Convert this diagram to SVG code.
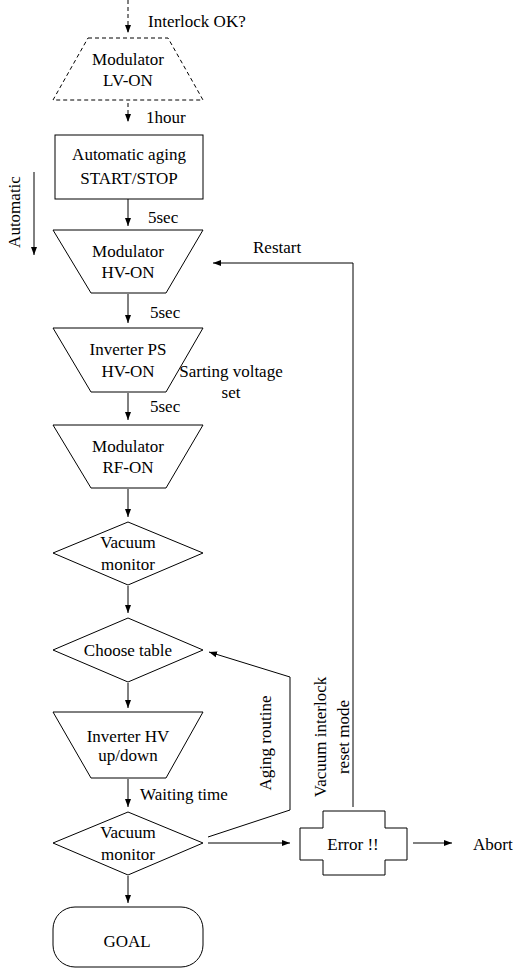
<svg xmlns="http://www.w3.org/2000/svg" width="515" height="968" viewBox="0 0 515 968">
<style>
text{font-family:'Liberation Serif','DejaVu Serif',serif;font-size:17px;fill:#000}
.c{text-anchor:middle}
.s{fill:#fff;stroke:#000;stroke-width:1}
.l{fill:none;stroke:#000;stroke-width:1}
</style>
<defs>
<marker id="a" markerUnits="userSpaceOnUse" markerWidth="8" markerHeight="8" refX="8" refY="4" orient="auto">
<path d="M0,1 L8,4 L0,7 z" fill="#000"/>
</marker>
</defs>
<rect width="515" height="968" fill="#fff"/>
<g id="connectors" font-family="Liberation Serif, serif">
<line class="l" x1="128" y1="0" x2="128" y2="33" stroke-dasharray="4,3" marker-end="url(#a)"/>
<line class="l" x1="128" y1="103" x2="128" y2="122" stroke-dasharray="4,3" marker-end="url(#a)"/>
<line class="l" x1="128" y1="199" x2="128" y2="226" marker-end="url(#a)"/>
<line class="l" x1="128" y1="294" x2="128" y2="323" marker-end="url(#a)"/>
<line class="l" x1="128" y1="393" x2="128" y2="420" marker-end="url(#a)"/>
<line class="l" x1="128" y1="489" x2="128" y2="517" marker-end="url(#a)"/>
<line class="l" x1="128" y1="586" x2="128" y2="613" marker-end="url(#a)"/>
<line class="l" x1="128" y1="683" x2="128" y2="708" marker-end="url(#a)"/>
<line class="l" x1="128" y1="779" x2="128" y2="807" marker-end="url(#a)"/>
<line class="l" x1="128" y1="876" x2="128" y2="903" marker-end="url(#a)"/>
<line class="l" x1="34" y1="172" x2="34" y2="255" marker-end="url(#a)"/>
<polyline class="l" points="353,807 353,263 213,263" marker-end="url(#a)"/>
<polyline class="l" points="208,837 290,810 290,677 209,652" marker-end="url(#a)"/>
<line class="l" x1="208" y1="843" x2="290" y2="843" marker-end="url(#a)"/>
<line class="l" x1="413" y1="843" x2="452" y2="843" marker-end="url(#a)"/>
<text x="148" y="27">Interlock OK?</text>
<text x="146" y="123">1hour</text>
<text x="148" y="223">5sec</text>
<text x="150" y="318">5sec</text>
<text x="150" y="412">5sec</text>
<text x="253" y="253">Restart</text>
<text x="140" y="800">Waiting time</text>
<text x="473" y="850">Abort</text>
<text class="c" transform="translate(20,212) rotate(-90)">Automatic</text>
<text class="c" transform="translate(271,743) rotate(-90)">Aging routine</text>
<text class="c" transform="translate(326,737) rotate(-90)">Vacuum interlock</text>
<text class="c" transform="translate(349,737) rotate(-90)">reset mode</text>
</g>
<g id="lv-on">
<polygon class="s" points="88,38 168,38 203,100 53,100" stroke-dasharray="4,3"/>
<text class="c" x="128" y="65">Modulator</text>
<text class="c" x="128" y="86">LV-ON</text>
</g>
<g id="aging">
<rect class="s" x="55" y="135" width="148" height="64"/>
<text class="c" x="129" y="160">Automatic aging</text>
<text class="c" x="129" y="184">START/STOP</text>
</g>
<g id="hv-on">
<polygon class="s" points="53,230 203,230 166,293 91,293"/>
<text class="c" x="128" y="257">Modulator</text>
<text class="c" x="128" y="278">HV-ON</text>
</g>
<g id="inverter-ps">
<polygon class="s" points="53,328 203,328 166,392 91,392"/>
<text class="c" x="128" y="355">Inverter PS</text>
<text class="c" x="128" y="377">HV-ON</text>
<text class="c" x="231" y="377">Sarting voltage</text>
<text class="c" x="231" y="398">set</text>
</g>
<g id="rf-on">
<polygon class="s" points="53,425 203,425 166,488 91,488"/>
<text class="c" x="128" y="452">Modulator</text>
<text class="c" x="128" y="473">RF-ON</text>
</g>
<g id="vacuum1">
<polygon class="s" points="128,522 203,553 128,585 53,553"/>
<text class="c" x="128" y="548">Vacuum</text>
<text class="c" x="128" y="570">monitor</text>
</g>
<g id="choose">
<polygon class="s" points="128,618 203,650 128,682 53,650"/>
<text class="c" x="128" y="656">Choose table</text>
</g>
<g id="inverter-hv">
<polygon class="s" points="53,712 203,712 166,778 91,778"/>
<text class="c" x="128" y="742">Inverter HV</text>
<text class="c" x="128" y="761">up/down</text>
</g>
<g id="vacuum2">
<polygon class="s" points="128,812 203,843 128,875 53,843"/>
<text class="c" x="128" y="838">Vacuum</text>
<text class="c" x="128" y="860">monitor</text>
</g>
<g id="error">
<polygon class="s" points="323,811 385,811 385,828 407,828 407,860 385,860 385,875 323,875 323,860 300,860 300,828 323,828"/>
<text class="c" x="353" y="850">Error !!</text>
</g>
<g id="goal">
<rect class="s" x="53" y="907" width="150" height="60" rx="22"/>
<text class="c" x="127" y="947">GOAL</text>
</g>
</svg>
